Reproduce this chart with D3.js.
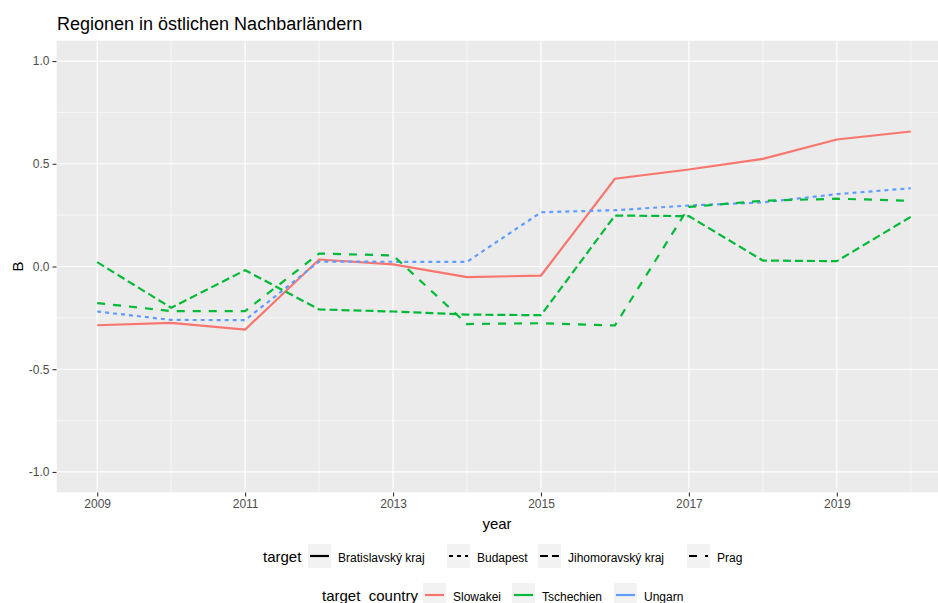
<!DOCTYPE html>
<html><head><meta charset="utf-8">
<script src="https://cdn.jsdelivr.net/npm/d3@7"></script>
<style>html,body{margin:0;padding:0;background:#fff;} svg{display:block;font-family:"Liberation Sans",Arial,sans-serif;}</style>
</head><body>
<script>
const years = [2009,2010,2011,2012,2013,2014,2015,2016,2017,2018,2019,2020];
const bratislavsky = [-0.286,-0.274,-0.307,0.034,0.010,-0.052,-0.044,0.427,0.472,0.524,0.618,0.657];
const budapest = [-0.219,-0.260,-0.261,0.024,0.023,0.023,0.264,0.274,0.297,0.312,0.352,0.381];
const jihomoravsky = [0.021,-0.201,-0.018,-0.209,-0.219,-0.234,-0.237,0.248,0.245,0.029,0.026,0.242];
const prag = [-0.178,-0.217,-0.217,0.063,0.054,-0.280,-0.276,-0.287,0.290,0.320,0.330,0.320];
const targets = ["Bratislavský kraj","Budapest","Jihomoravský kraj","Prag"];
const countries = ["Slowakei","Tschechien","Ungarn"];
const targetCountry = ["Slowakei","Ungarn","Tschechien","Tschechien"];
const xTicks = [2009,2011,2013,2015,2017,2019];
const xMinor = [2008,2010,2012,2014,2016,2018,2020];
const yTicks = [-1.0,-0.5,0.0,0.5,1.0];
const yMinor = [-0.75,-0.25,0.25,0.75];
const title = "Regionen in östlichen Nachbarländern";

const colors = {"Slowakei":"#F8766D","Tschechien":"#00BA38","Ungarn":"#619CFF"};
const dashes = {"Bratislavský kraj":null,"Budapest":"4,4","Jihomoravský kraj":"8,4","Prag":"8,8"};
const seriesValues = [bratislavsky,budapest,jihomoravsky,prag];

const W=938,H=603;
const P={l:56.5,r:951.5,t:40.5,b:492.5};
const svg=d3.select("body").append("svg").attr("width",W).attr("height",H);
const x=d3.scaleLinear().domain([2009-0.55,2020+0.55]).range([P.l,P.r]);
const y=d3.scaleLinear().domain([-1.1,1.1]).range([P.b,P.t]);

svg.append("text").attr("x",57).attr("y",30).attr("font-size",18).attr("fill","#000").text(title);

svg.append("defs").append("clipPath").attr("id","pc").append("rect")
  .attr("x",P.l).attr("y",P.t).attr("width",P.r-P.l).attr("height",P.b-P.t);
const panel=svg.append("g").attr("clip-path","url(#pc)");
panel.append("rect").attr("x",P.l).attr("y",P.t).attr("width",P.r-P.l).attr("height",P.b-P.t).attr("fill","#EBEBEB");
panel.selectAll(".ymin").data(yMinor).enter().append("line")
  .attr("x1",P.l).attr("x2",P.r).attr("y1",d=>y(d)).attr("y2",d=>y(d)).attr("stroke","#fff").attr("stroke-width",0.6);
panel.selectAll(".xmin").data(xMinor).enter().append("line")
  .attr("y1",P.t).attr("y2",P.b).attr("x1",d=>x(d)).attr("x2",d=>x(d)).attr("stroke","#fff").attr("stroke-width",0.6);
panel.selectAll(".ymaj").data(yTicks).enter().append("line")
  .attr("x1",P.l).attr("x2",P.r).attr("y1",d=>y(d)).attr("y2",d=>y(d)).attr("stroke","#fff").attr("stroke-width",1.2);
panel.selectAll(".xmaj").data(xTicks).enter().append("line")
  .attr("y1",P.t).attr("y2",P.b).attr("x1",d=>x(d)).attr("x2",d=>x(d)).attr("stroke","#fff").attr("stroke-width",1.2);

const line=d3.line().x(d=>x(d[0])).y(d=>y(d[1]));
targets.forEach((t,i)=>{
  const pts=years.map((yr,j)=>[yr,seriesValues[i][j]]);
  panel.append("path").attr("d",line(pts)).attr("fill","none")
    .attr("stroke",colors[targetCountry[i]]).attr("stroke-width",2.2)
    .attr("stroke-dasharray",dashes[t]);
});

// axes
const xAxis=d3.axisBottom(x).tickValues(xTicks).tickFormat(d3.format("d")).tickSize(4).tickPadding(3);
const gx=svg.append("g").attr("transform",`translate(0,${P.b})`).call(xAxis);
gx.select(".domain").remove();
gx.selectAll("line").attr("stroke","#333").attr("stroke-width",1.1);
gx.selectAll("text").attr("fill","#4D4D4D").attr("font-size",12).attr("font-family","Liberation Sans, Arial, sans-serif");
const yAxis=d3.axisLeft(y).tickValues(yTicks).tickFormat(d3.format(".1f")).tickSize(4).tickPadding(3);
const gy=svg.append("g").attr("transform",`translate(${P.l},0)`).call(yAxis);
gy.select(".domain").remove();
gy.selectAll("line").attr("stroke","#333").attr("stroke-width",1.1);
gy.selectAll("text").attr("fill","#4D4D4D").attr("font-size",12).attr("font-family","Liberation Sans, Arial, sans-serif")
  .text(d=>d<0?"-"+Math.abs(d).toFixed(1):d.toFixed(1));

svg.append("text").attr("x",497).attr("y",529).attr("text-anchor","middle").attr("font-size",15).text("year");
svg.append("text").attr("transform","translate(23,266.5) rotate(-90)").attr("text-anchor","middle").attr("font-size",15).text("B");

// legends
function legendRow(titleText,titleX,baseY,items){
  svg.append("text").attr("x",titleX).attr("y",baseY).attr("font-size",15).text(titleText);
  items.forEach(it=>{
    svg.append("rect").attr("x",it.kx).attr("y",baseY-18).attr("width",23).attr("height",24).attr("fill","#F2F2F2");
    svg.append("line").attr("x1",it.kx+2).attr("x2",it.kx+21).attr("y1",baseY-6).attr("y2",baseY-6)
      .attr("stroke",it.color).attr("stroke-width",2.2).attr("stroke-dasharray",it.dash);
    svg.append("text").attr("x",it.kx+30).attr("y",baseY).attr("font-size",12).text(it.label);
  });
}
const row1X=[308,447,538,687];
legendRow("target",263,562,targets.map((t,i)=>({kx:row1X[i],color:"#000",dash:dashes[t],label:t})));
const row2X=[423,512,614];
legendRow("target_country",322,601,countries.map((c,i)=>({kx:row2X[i],color:colors[c],dash:null,label:c})));
</script>
</body></html>
